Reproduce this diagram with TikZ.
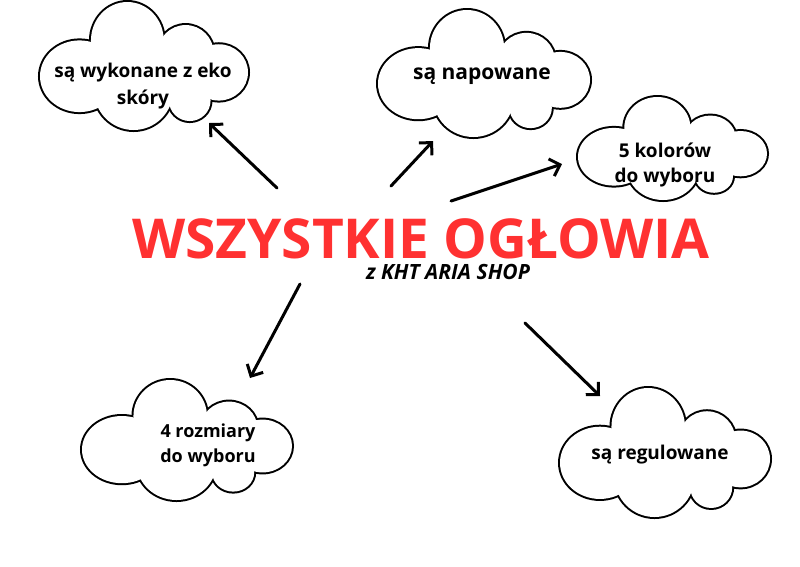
\documentclass[tikz,border=0pt]{standalone}
\usepackage{fontspec}
\setmainfont{Open Sans}
\usetikzlibrary{arrows.meta}
\definecolor{tytul}{RGB}{255,49,49}
\tikzset{
  chmura/.pic={
    % kontur: obrys elips, potem biale wypelnienie
    \foreach \u/\v/\rx/\ry in {0.19/0.58/0.19/0.28, 0.42/0.30/0.175/0.30, 0.70/0.40/0.135/0.22,
        0.86/0.55/0.14/0.22, 0.72/0.77/0.10/0.16, 0.45/0.69/0.19/0.31}
      \draw[line width=4pt] (\u,\v) ellipse [x radius=\rx, y radius=\ry];
    \foreach \u/\v/\rx/\ry in {0.19/0.58/0.19/0.28, 0.42/0.30/0.175/0.30, 0.70/0.40/0.135/0.22,
        0.86/0.55/0.14/0.22, 0.72/0.77/0.10/0.16, 0.45/0.69/0.19/0.31, 0.5/0.55/0.33/0.28}
      \fill[white] (\u,\v) ellipse [x radius=\rx, y radius=\ry];
  },
  napis/.style={font=\bfseries\fontsize{#1}{25}\selectfont, align=center},
  napis/.default=18,
  strzalka/.style={line width=3pt, line cap=round, -{Straight Barb[length=9pt,width=18pt]}}
}
\begin{document}
\begin{tikzpicture}[x=1pt, y=-1pt]
  \fill[white] (0,0) rectangle (800,566);
  \useasboundingbox (0,0) rectangle (800,566);

  % chmury
  \pic[xscale=208, yscale=128] at (40,2)   {chmura};
  \pic[xscale=212, yscale=127] at (378,10) {chmura};
  \pic[xscale=189, yscale=103] at (578,97) {chmura};
  \pic[xscale=210, yscale=120] at (82,380) {chmura};
  \pic[xscale=210, yscale=129] at (560,388) {chmura};

  \node[napis=19] (eko)     at (143,86)  {są wykonane z eko\\[2pt]skóry};
  \node[napis=21] (napow)   at (482,76)  {są napowane};
  \node[napis=19] (kolory)  at (665,165) {5 kolorów\\do wyboru};
  \node[napis]    (rozmiar) at (208,445) {4 rozmiary\\do wyboru};
  \node[napis=19] (regul)   at (660,455) {są regulowane};

  % tytul
  \node[anchor=base, inner sep=0pt, text depth=0pt, text=tytul,
        font=\bfseries\fontsize{55}{60}\selectfont] (tytul) at (421,258) {WSZYSTKIE OGŁOWIA};
  \node[anchor=base, inner sep=0pt, font=\bfseries\itshape\fontsize{21}{22}\selectfont] (sklep) at (448,279) {z KHT ARIA SHOP};

  % strzalki
  \coordinate (s1) at (277,188); \coordinate (k1) at (209,123);
  \coordinate (s2) at (391,186); \coordinate (k2) at (433,141);
  \coordinate (s3) at (451,201); \coordinate (k3) at (562,164);
  \coordinate (s4) at (300,284); \coordinate (k4) at (250,378);
  \coordinate (s5) at (525,323); \coordinate (k5) at (600,396);
  \foreach \i in {1,...,5}
    \draw[strzalka] (s\i) -- (k\i);
\end{tikzpicture}
\end{document}
